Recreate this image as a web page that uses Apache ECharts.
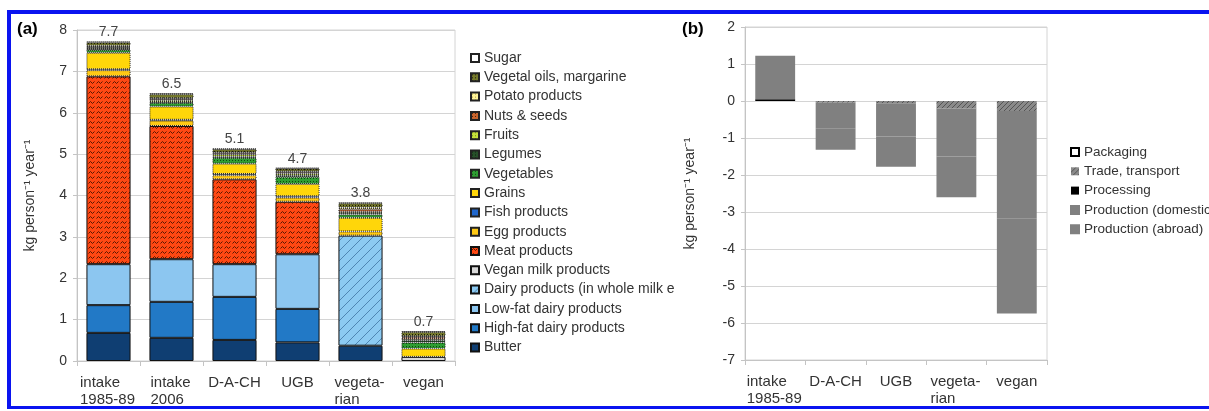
<!DOCTYPE html>
<html><head><meta charset="utf-8">
<script src="https://cdn.jsdelivr.net/npm/echarts@6/dist/echarts.min.js"></script>
<style>html,body{margin:0;padding:0;background:#fff}#c{width:1209px;height:411px}</style>
</head><body><div id="c"></div>
<script>
// ---- data: panel (a) ----
const catsA = ['intake\n1985-89', 'intake\n2006', 'D-A-CH', 'UGB', 'vegeta-\nrian', 'vegan'];
const butter     = [0.68, 0.56, 0.51, 0.45, 0.37, 0];
const highFat    = [0.67, 0.87, 1.04, 0.81, 0, 0];
const lowFat     = [0.99, 1.03, 0.79, 1.32, 0, 0];
const dairyEq    = [0, 0, 0, 0, 2.66, 0];
const veganMilk  = [0, 0, 0, 0, 0, 0.10];
const meat       = [4.54, 3.22, 2.05, 1.27, 0, 0];
const egg        = [0.15, 0.13, 0.10, 0.10, 0.10, 0];
const fish       = [0.02, 0.02, 0.03, 0.03, 0, 0];
const grains     = [0.40, 0.32, 0.25, 0.30, 0.33, 0.20];
const vegetables = [0.07, 0.09, 0.14, 0.17, 0.08, 0.15];
const legumes    = [0.02, 0.02, 0.03, 0.04, 0.04, 0.05];
const fruits     = [0.03, 0.04, 0.05, 0.04, 0.03, 0.03];
const nuts       = [0.02, 0.03, 0.03, 0.03, 0.06, 0.05];
const potato     = [0.03, 0.02, 0.02, 0.02, 0.04, 0.02];
const oils       = [0.08, 0.10, 0.08, 0.07, 0.10, 0.10];
const sugar      = [0.02, 0.02, 0.01, 0.02, 0.02, 0.02];
const ticksA = [0, 1, 2, 3, 4, 5, 6, 7, 8];

// ---- data: panel (b) ----
const catsB = ['intake\n1985-89', 'D-A-CH', 'UGB', 'vegeta-\nrian', 'vegan'];
const packaging = [0, 0, 0, 0, 0];
const trade     = [0, -0.05, -0.06, -0.20, -0.27];
const processing= [0.05, 0, 0, 0, 0];
const prodDom   = [0.60, -0.70, -0.90, -1.30, -2.90];
const prodAbr   = [0.57, -0.57, -0.82, -1.10, -2.57];
const ticksB = [-7, -6, -5, -4, -3, -2, -1, 0, 1, 2];

const FONT = '"Liberation Sans", Arial, sans-serif';

function pat(bg, w, h, draw) {
  const c = document.createElement('canvas'); c.width = w; c.height = h;
  const g = c.getContext('2d'); g.fillStyle = bg; g.fillRect(0, 0, w, h);
  if (draw) draw(g);
  return { image: c, repeat: 'repeat' };
}
function dots(bg, dc) { return pat(bg, 3, 3, g => { g.fillStyle = dc; g.fillRect(1, 1, 1, 1); }); }
function hatch(bg, lc, s) {
  return pat(bg, s, s, g => { g.strokeStyle = lc; g.lineWidth = 1; g.beginPath();
    g.moveTo(0, s); g.lineTo(s, 0); g.moveTo(-1, 1); g.lineTo(1, -1); g.moveTo(s - 1, s + 1); g.lineTo(s + 1, s - 1); g.stroke(); });
}
const meatPat = pat('#ff4813', 8, 5, g => { g.strokeStyle = '#5a1800'; g.lineWidth = 1; g.beginPath();
  g.moveTo(0.5, 3.5); g.lineTo(2.5, 1.5); g.lineTo(4.5, 3.5); g.lineTo(6.5, 1.5); g.stroke(); });

const measure = (() => { const c = document.createElement('canvas').getContext('2d'); c.font = '15px ' + FONT;
  return t => Math.ceil(c.measureText(t).width) + 1; })();
function catFmt(v) {
  if (v.indexOf('\n') < 0) return v;
  const parts = v.split('\n'); const w = Math.max(...parts.map(measure));
  return parts.map(p => '{l' + w + '|' + p + '}').join('\n');
}
function richFor(cats) {
  const r = {};
  cats.forEach(v => { if (v.indexOf('\n') >= 0) { const w = Math.max(...v.split('\n').map(measure));
    r['l' + w] = { width: w, align: 'left', fontSize: 15, fontFamily: FONT, color: '#333', lineHeight: 17 }; } });
  return r;
}
const nz = a => a.map(v => v === 0 ? '-' : v);

const totalsA = catsA.map((_, i) => [butter, highFat, lowFat, dairyEq, veganMilk, meat, egg, fish, grains,
  vegetables, legumes, fruits, nuts, potato, oils, sugar].reduce((s, a) => s + a[i], 0));

const solidB = { borderColor: '#111', borderWidth: 1 };
const dotB = { borderColor: '#222', borderWidth: 1, borderType: 'dotted' };

const seriesA = [
  ['Butter', butter, Object.assign({ color: '#0f3e72' }, solidB)],
  ['High-fat dairy products', highFat, Object.assign({ color: '#2279c6' }, solidB)],
  ['Low-fat dairy products', lowFat, Object.assign({ color: '#8cc6f0' }, solidB)],
  ['Dairy products (in whole milk equivalent)', dairyEq, Object.assign({ color: hatch('#8ccaf2', '#4f86b3', 10) }, solidB)],
  ['Vegan milk products', veganMilk, Object.assign({ color: '#d8d8d8' }, solidB)],
  ['Meat products', meat, Object.assign({ color: meatPat }, solidB)],
  ['Egg products', egg, Object.assign({ color: '#ffc915' }, dotB)],
  ['Fish products', fish, Object.assign({ color: '#1f66cc' }, dotB)],
  ['Grains', grains, Object.assign({ color: '#ffd60a' }, dotB)],
  ['Vegetables', vegetables, Object.assign({ color: dots('#2e9e32', '#0e4a10') }, dotB)],
  ['Legumes', legumes, Object.assign({ color: dots('#27502a', '#0a200a') }, dotB)],
  ['Fruits', fruits, Object.assign({ color: dots('#c6e23c', '#6a8a10') }, dotB)],
  ['Nuts & seeds', nuts, Object.assign({ color: dots('#c8652e', '#4a2008') }, dotB)],
  ['Potato products', potato, Object.assign({ color: dots('#fff49a', '#b0a040') }, dotB)],
  ['Vegetal oils, margarine', oils, Object.assign({ color: dots('#767a2c', '#1c1c06') }, dotB)],
  ['Sugar', sugar, Object.assign({ color: '#ffffff' }, dotB)]
].map(([name, data, st], idx, arr) => {
  const s = { name, type: 'bar', stack: 'a', xAxisIndex: 0, yAxisIndex: 0, barWidth: '70%', data: nz(data), itemStyle: st };
  if (idx === arr.length - 1) s.label = { show: true, position: 'top', distance: 2, fontSize: 14, fontFamily: FONT, color: '#444',
    formatter: p => totalsA[p.dataIndex].toFixed(1) };
  return s;
});

const seriesB = [
  ['Trade, transport', trade, { color: hatch('#8a8a8a', '#555', 5) }],
  ['Processing', processing, { color: '#000' }],
  ['Packaging', packaging, { color: '#fff', borderColor: '#000', borderWidth: 1 }],
  ['Production (domestic)', prodDom, { color: '#808080', borderColor: '#808080', borderWidth: 2 }],
  ['Production (abroad)', prodAbr, { color: '#808080', borderColor: '#808080', borderWidth: 2 }]
].map(([name, data, st]) => ({ name, type: 'bar', stack: 'b', xAxisIndex: 1, yAxisIndex: 1, barWidth: '66%', data: nz(data), itemStyle: st }));

const axisLabelCommon = { fontSize: 14, fontFamily: FONT, color: '#333' };
const grid = { show: true, borderColor: '#d4d4d4', borderWidth: 1, backgroundColor: 'transparent' };

const option = {
  animation: false,
  textStyle: { fontFamily: FONT },
  title: [
    { text: '(a)', left: 12, top: 16, textStyle: { fontSize: 17, fontWeight: 'bold', color: '#000', fontFamily: FONT } },
    { text: '(b)', left: 677, top: 16, textStyle: { fontSize: 17, fontWeight: 'bold', color: '#000', fontFamily: FONT } }
  ],
  grid: [
    Object.assign({ left: 77, top: 30, width: 378, height: 331 }, grid),
    Object.assign({ left: 745, top: 27, width: 302, height: 333 }, grid)
  ],
  legend: [
    { orient: 'vertical', left: 465, top: 46, itemWidth: 8, itemHeight: 8, itemGap: 5.3, icon: 'rect',
      data: seriesA.map(s => s.name).reverse(),
      textStyle: { fontSize: 14, fontFamily: FONT, color: '#333', lineHeight: 14, width: 200, overflow: 'truncate', ellipsis: '' } },
    { orient: 'vertical', left: 1065, top: 140, itemWidth: 8, itemHeight: 8, itemGap: 5.3, icon: 'rect',
      data: ['Packaging', 'Trade, transport', 'Processing', 'Production (domestic)', 'Production (abroad)'],
      textStyle: { fontSize: 13.5, fontFamily: FONT, color: '#333', lineHeight: 14 } }
  ],
  xAxis: [
    { type: 'category', gridIndex: 0, data: catsA,
      axisLine: { lineStyle: { color: '#c4c4c4' } }, axisTick: { show: true, length: 5, lineStyle: { color: '#c4c4c4' } },
      axisLabel: { fontSize: 15, fontFamily: FONT, color: '#333', margin: 13, lineHeight: 17, interval: 0, formatter: catFmt, rich: richFor(catsA) } },
    { type: 'category', gridIndex: 1, data: catsB, position: 'bottom', axisLine: { onZero: false, lineStyle: { color: '#c4c4c4' } },
      axisTick: { show: true, length: 5, lineStyle: { color: '#c4c4c4' } },
      axisLabel: { fontSize: 15, fontFamily: FONT, color: '#333', margin: 13, lineHeight: 17, interval: 0, formatter: catFmt, rich: richFor(catsB) } }
  ],
  yAxis: [
    { type: 'value', gridIndex: 0, min: ticksA[0], max: ticksA[ticksA.length - 1], interval: 1,
      name: 'kg person⁻¹ year⁻¹', nameLocation: 'middle', nameGap: 40, nameTextStyle: { fontSize: 14, fontFamily: FONT, color: '#333' },
      axisLine: { show: true, lineStyle: { color: '#c4c4c4' } }, axisTick: { show: true, length: 4, lineStyle: { color: '#c4c4c4' } },
      axisLabel: Object.assign({ margin: 10 }, axisLabelCommon), splitLine: { lineStyle: { color: '#d4d4d4' } } },
    { type: 'value', gridIndex: 1, min: ticksB[0], max: ticksB[ticksB.length - 1], interval: 1,
      name: 'kg person⁻¹ year⁻¹', nameLocation: 'middle', nameGap: 48, nameTextStyle: { fontSize: 14, fontFamily: FONT, color: '#333' },
      axisLine: { show: true, lineStyle: { color: '#c4c4c4' } }, axisTick: { show: true, length: 4, lineStyle: { color: '#c4c4c4' } },
      axisLabel: Object.assign({ margin: 10 }, axisLabelCommon), splitLine: { lineStyle: { color: '#d4d4d4' } } }
  ],
  graphic: [
    { type: 'rect', shape: { x: 7, y: 10, width: 1202, height: 4 }, style: { fill: '#0a14f0' }, silent: true },
    { type: 'rect', shape: { x: 7, y: 10, width: 4, height: 398 }, style: { fill: '#0a14f0' }, silent: true },
    { type: 'rect', shape: { x: 7, y: 406, width: 1202, height: 3 }, style: { fill: '#0a14f0' }, silent: true }
  ],
  series: seriesA.concat(seriesB)
};
echarts.init(document.getElementById('c'), null, { renderer: 'canvas' }).setOption(option);
</script></body></html>
